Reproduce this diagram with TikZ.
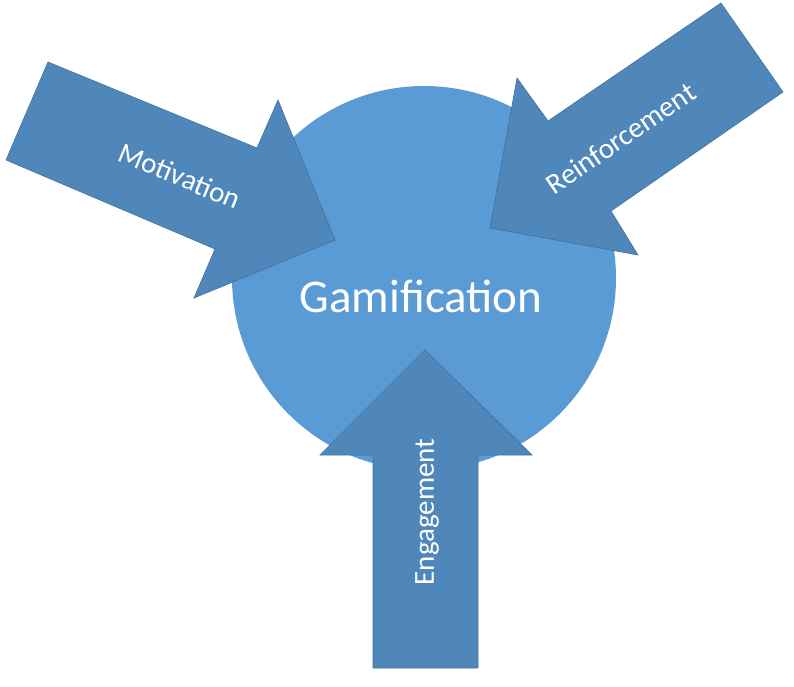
\documentclass[tikz,border=0pt]{standalone}
\usepackage{fontspec}
\setmainfont{Carlito}
\definecolor{circ}{HTML}{5B9BD5}
\definecolor{arr}{HTML}{4F87BA}
\definecolor{arrb}{HTML}{41719C}
\begin{document}
\begin{tikzpicture}[x=1pt,y=-1pt,
  arrowshape/.style={fill=arr,draw=arrb,line width=0.6pt,line join=miter},
  lbl/.style={text=white,font=\fontsize{29}{34}\selectfont}]
\useasboundingbox (0,0) rectangle (794,687);
\fill[circ] (424,278) circle (192);
\node[text=white,font=\fontsize{47}{54}\selectfont] (g) at (421,296) {Gamification};
\filldraw[arrowshape] (48,62) -- (257,148) -- (278,100) -- (335,240) -- (194,298) -- (215,249) -- (6,160) -- cycle;
\filldraw[arrowshape] (721,3) -- (783,92) -- (611,211) -- (638,255) -- (490,228) -- (517,78) -- (548,121) -- cycle;
\filldraw[arrowshape] (373,668) -- (478,668) -- (478,455) -- (532,455) -- (425,350) -- (320,455) -- (373,455) -- cycle;
\node[lbl,rotate=-22.4] (m) at (180,176) {Motivation};
\node[lbl,rotate=34.3] (r) at (621,138) {Reinforcement};
\node[lbl,rotate=90] (e) at (427,512) {Engagement};
\end{tikzpicture}
\end{document}
